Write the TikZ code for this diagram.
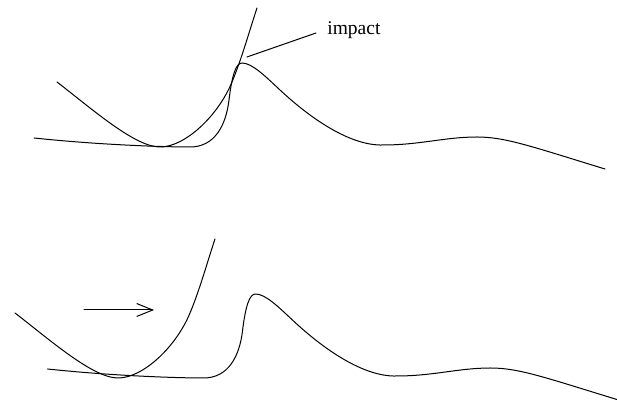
\documentclass[tikz,border=0pt]{standalone}
\usepackage{fontspec}
\setmainfont{Liberation Serif}
\usetikzlibrary{arrows.meta}
\begin{document}
\begin{tikzpicture}[x=0.5pt,y=-0.5pt,
  curve/.style={line width=0.5pt, line join=round, line cap=round},
  label/.style={font=\fontsize{9.75}{12}\selectfont, inner sep=0pt, anchor=base west},
  wave/.pic={\draw[curve] (34,138) .. controls (100,145) and (165,147) .. (190,147)
      .. controls (215,147) and (226,125) .. (229,100)
      .. controls (232,75) and (236,63) .. (242,63)
      .. controls (252,63) and (265,76) .. (280,90)
      .. controls (310,118) and (350,146) .. (383,145)
      .. controls (420,145) and (445,137) .. (477,137)
      .. controls (505,137) and (530,146) .. (605,169);},
  parab/.pic={\draw[curve] (57,82) .. controls (92,109) and (135,147) .. (160,147)
      .. controls (185,147) and (218,116) .. (232,82)
      .. controls (242,58) and (249,32) .. (257,8);}
]
\useasboundingbox (0,0) rectangle (617,400);
\clip (0,0) rectangle (617,400);
% top panel
\pic (w1) at (0,0) {wave};
\pic (p1) at (0,0) {parab};
\coordinate (impA) at (247,57);
\coordinate (impB) at (316,33);
\node[label] (lbl) at (327,35) {impact};
\draw[curve] (impA) -- (impB);
% bottom panel
\pic (w2) at (13.5,231) {wave};
\pic (p2) at (-42,231) {parab};
\coordinate (arA) at (84,310);
\coordinate (arB) at (154,310);
\draw[curve, -{Straight Barb[length=8pt,width=6.5pt]}] (arA) -- (arB);
\end{tikzpicture}
\end{document}
